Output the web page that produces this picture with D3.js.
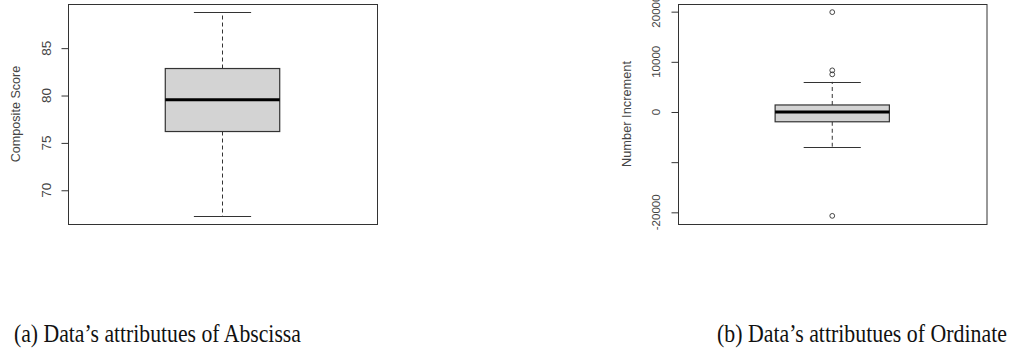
<!DOCTYPE html>
<html><head><meta charset="utf-8">
<script src="https://cdn.jsdelivr.net/npm/d3@7"></script>
<style>body{margin:0;background:#fff}svg{display:block}</style>
</head><body>
<svg id="c" width="1013" height="351"></svg>
<script>
// Panel (a): Composite Score
const statsA = {min: 67.3, q1: 76.2, median: 79.55, q3: 82.85, max: 88.8};
const outliersA = [];
const ticksA = [70, 75, 80, 85];
const tickLabelsA = ["70", "75", "80", "85"];
const titleA = "Composite Score";
const captionA = "(a) Data\u2019s attributues of Abscissa";

// Panel (b): Number Increment
const statsB = {min: -6900, q1: -1950, median: 0, q3: 1400, max: 6000};
const outliersB = [19900, 8300, 7500, -20700];
const ticksB = [-20000, -10000, 0, 10000, 20000];
const tickLabelsB = ["-20000", "", "0", "10000", "20000"];
const titleB = "Number Increment";
const captionB = "(b) Data\u2019s attributues of Ordinate";

const svg = d3.select("#c");

function panel(cfg) {
  const {left, right, top, bottom, stats, outliers, ticks, labels, title,
         tickFont, titleFont, tickX, titleX} = cfg;
  const vals = [stats.min, stats.max, ...outliers];
  const lo = d3.min(vals), hi = d3.max(vals), ext = (hi - lo) * 0.04;
  const y = d3.scaleLinear().domain([lo - ext, hi + ext]).range([bottom, top]);
  const x = d3.scaleLinear().domain([0.46, 1.54]).range([left, right]);
  const g = svg.append("g");
  const col = "#333";
  // whiskers
  g.append("line").attr("x1", x(1)).attr("x2", x(1)).attr("y1", y(stats.q3)).attr("y2", y(stats.max))
    .attr("stroke", col).attr("stroke-dasharray", "4,3");
  g.append("line").attr("x1", x(1)).attr("x2", x(1)).attr("y1", y(stats.q1)).attr("y2", y(stats.min))
    .attr("stroke", col).attr("stroke-dasharray", "4,3");
  [stats.min, stats.max].forEach(v => {
    g.append("line").attr("x1", x(0.9)).attr("x2", x(1.1)).attr("y1", Math.round(y(v)) + 0.5).attr("y2", Math.round(y(v)) + 0.5)
      .attr("stroke", col);
  });
  // box
  g.append("rect").attr("x", x(0.8)).attr("width", x(1.2) - x(0.8))
    .attr("y", y(stats.q3)).attr("height", y(stats.q1) - y(stats.q3))
    .attr("fill", "#d3d3d3").attr("stroke", col).attr("stroke-width", 1.2);
  g.append("line").attr("x1", x(0.8)).attr("x2", x(1.2)).attr("y1", y(stats.median)).attr("y2", y(stats.median))
    .attr("stroke", "#000").attr("stroke-width", 3);
  // outliers
  g.selectAll("circle.o").data(outliers).join("circle")
    .attr("cx", x(1)).attr("cy", d => y(d)).attr("r", 2.4)
    .attr("fill", "none").attr("stroke", col).attr("stroke-width", 0.9);
  // frame
  g.append("rect").attr("x", left + 0.5).attr("y", top + 0.5)
    .attr("width", right - left).attr("height", bottom - top)
    .attr("fill", "none").attr("stroke", col).attr("stroke-width", 1);
  // y axis ticks
  const axis = d3.axisLeft(y).tickValues(ticks).tickSize(7).tickFormat(() => "");
  const ax = g.append("g").attr("transform", `translate(${left + 0.5},0)`).call(axis);
  ax.select(".domain").remove();
  ax.selectAll(".tick line").attr("stroke", col);
  ticks.forEach((t, i) => {
    g.append("text").attr("transform", `translate(${tickX},${y(t)}) rotate(-90)`)
      .attr("text-anchor", "middle").attr("font-family", "Liberation Sans, Arial, sans-serif")
      .attr("font-size", tickFont).attr("fill", "#444").text(labels[i]);
  });
  g.append("text").attr("transform", `translate(${titleX},${(top + bottom) / 2}) rotate(-90)`)
    .attr("text-anchor", "middle").attr("font-family", "Liberation Sans, Arial, sans-serif")
    .attr("font-size", titleFont).attr("fill", "#444").text(title);
}

panel({left: 68, right: 377, top: 4, bottom: 224, stats: statsA, outliers: outliersA,
  ticks: ticksA, labels: tickLabelsA, title: titleA, tickFont: 13.5, titleFont: 12.6, tickX: 50.5, titleX: 20});
panel({left: 678, right: 986.5, top: 4, bottom: 224, stats: statsB, outliers: outliersB,
  ticks: ticksB, labels: tickLabelsB, title: titleB, tickFont: 11.5, titleFont: 12.8, tickX: 660, titleX: 630.5});

function caption(txt, x, w) {
  const t = svg.append("text").attr("x", 0).attr("y", 0)
    .attr("font-family", "Liberation Serif, 'DejaVu Serif', serif").attr("font-size", 25)
    .attr("fill", "#111").text(txt);
  const len = t.node().getComputedTextLength();
  t.attr("transform", `translate(${x},342) scale(${w / len},1)`);
}
caption(captionA, 14, 287);
caption(captionB, 717, 290);
</script>
</body></html>
